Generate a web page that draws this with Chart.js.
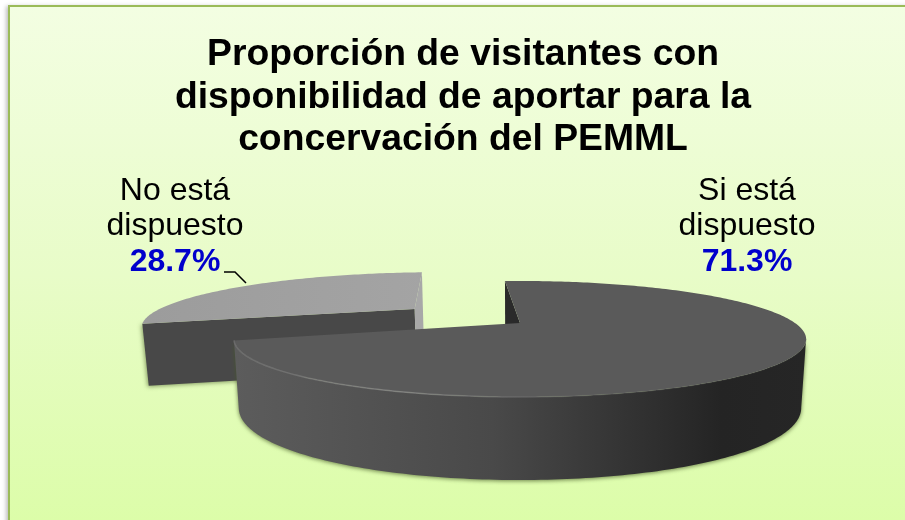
<!DOCTYPE html>
<html>
<head>
<meta charset="utf-8">
<style>
html, body { margin: 0; padding: 0; background: #fff; overflow: hidden; }
#panel {
    position: absolute; left: 8px; top: 5px; width: 920px; height: 540px;
    border: 2px solid #9bbb59; box-sizing: border-box;
    background: linear-gradient(to bottom, #f3fee2 0%, #e8fcc8 50%, #dbfda6 100%);
    box-shadow: -2px 1px 4px rgba(0, 0, 0, 0.25);
}
#pie { position: absolute; left: 0; top: 0; }
</style>
<script src="https://cdn.jsdelivr.net/npm/chart.js@4"></script>
</head>
<body>
<div id="panel"></div>
<canvas id="pie" width="905" height="520"></canvas>
<script>
const titleLines = [
    'Proporción de visitantes con',
    'disponibilidad de aportar para la',
    'concervación del PEMML'
];
const categories = [['Si está', 'dispuesto'], ['No está', 'dispuesto']];
const values = [71.3, 28.7];

// perspective of the pie plane
const view = { cx: 520, cy: 323, rx: 275, ry: 53.6, persp: 0.276, depth: 61 };

function project(u, v) {
    const s = 1 / (1 - view.persp * v);
    return { x: view.cx + view.rx * u * s, y: view.cy + view.ry * v * s, s: s, v: v };
}

function lower(p) {
    // wall gets taller towards the viewer
    const extra = p.s > 1 ? 22 * Math.pow((p.s - 1) / 0.381, 0.69) : 0;
    return {
        x: view.cx + (p.x - view.cx) * 0.983,
        y: p.y + view.depth + extra
    };
}

function tracePoly(ctx, pts) {
    ctx.beginPath();
    pts.forEach((p, i) => i ? ctx.lineTo(p.x, p.y) : ctx.moveTo(p.x, p.y));
    ctx.closePath();
}

function arcGeometry(arc) {
    const start = arc.startAngle, end = arc.endAngle;
    const mid = (start + end) / 2;
    const d = arc.options.offset / arc.outerRadius;
    const ou = Math.cos(mid) * d, ov = Math.sin(mid) * d;
    const rim = [];
    const steps = Math.ceil((end - start) / (Math.PI / 180));
    for (let i = 0; i <= steps; i++) {
        const a = start + (end - start) * i / steps;
        rim.push(project(ou + Math.cos(a), ov + Math.sin(a)));
    }
    return { apex: project(ou, ov), rim: rim };
}

function drawWall(ctx, a, b, fill) {
    tracePoly(ctx, [a, b, lower(b), lower(a)]);
    ctx.fillStyle = fill;
    ctx.fill();
}

const pie3d = {
    id: 'pie3d',
    beforeDatasetDraw(chart) {
        const ctx = chart.ctx;
        const arcs = chart.getDatasetMeta(0).data;
        const big = arcGeometry(arcs[0]);
        const small = arcGeometry(arcs[1]);
        ctx.save();

        // small slice first, the big one overlaps it
        const sr = small.rim;
        ctx.save();
        ctx.shadowColor = 'rgba(70, 90, 40, 0.6)';
        ctx.shadowBlur = 4;
        ctx.shadowOffsetX = -1;
        ctx.shadowOffsetY = 1;
        drawWall(ctx, small.apex, sr[0], '#484848');
        ctx.restore();
        drawWall(ctx, small.apex, sr[sr.length - 1], '#a8a8a8');
        tracePoly(ctx, [small.apex].concat(sr));
        const smallTop = ctx.createLinearGradient(150, 0, 430, 0);
        smallTop.addColorStop(0, '#9c9c9c');
        smallTop.addColorStop(1, arcs[1].options.backgroundColor);
        ctx.fillStyle = smallTop;
        ctx.fill();

        // big slice
        const br = big.rim;
        drawWall(ctx, big.apex, br[0], '#2a2a2a');
        // outer wall: only the part facing us, from the rightmost rim point on
        let right = 0;
        br.forEach((p, i) => { if (p.x > br[right].x) right = i; });
        const front = br.slice(right);
        const grad = ctx.createLinearGradient(235, 0, 808, 0);
        grad.addColorStop(0, '#5c5c5c');
        grad.addColorStop(0.45, '#494949');
        grad.addColorStop(0.85, '#242424');
        grad.addColorStop(1, '#262626');
        ctx.save();
        ctx.shadowColor = 'rgba(70, 90, 40, 0.75)';
        ctx.shadowBlur = 4;
        ctx.shadowOffsetY = 1;
        tracePoly(ctx, front.concat(front.map(lower).reverse()));
        ctx.fillStyle = grad;
        ctx.fill();
        ctx.restore();
        tracePoly(ctx, [big.apex].concat(br));
        ctx.fillStyle = arcs[0].options.backgroundColor;
        ctx.fill();

        // soft highlight on the front rim only
        const hl = ctx.createLinearGradient(235, 0, 808, 0);
        hl.addColorStop(0, 'rgba(130,130,130,0.5)');
        hl.addColorStop(0.3, 'rgba(140,140,140,0.7)');
        hl.addColorStop(0.6, 'rgba(110,110,110,0.35)');
        hl.addColorStop(1, 'rgba(90,90,90,0.2)');
        ctx.beginPath();
        front.forEach((p, i) => i ? ctx.lineTo(p.x, p.y) : ctx.moveTo(p.x, p.y));
        ctx.strokeStyle = hl;
        ctx.lineWidth = 1.5;
        ctx.stroke();

        ctx.restore();
        return false;
    },
    afterDraw(chart) {
        const ctx = chart.ctx;
        const spots = [747, 175];
        ctx.save();
        ctx.textAlign = 'center';
        ctx.textBaseline = 'middle';
        categories.forEach((lines, i) => {
            ctx.fillStyle = '#000';
            ctx.font = '32px "Liberation Sans"';
            ctx.fillText(lines[0], spots[i], 191);
            ctx.fillText(lines[1], spots[i], 226);
            ctx.fillStyle = '#0000cc';
            ctx.font = 'bold 32px "Liberation Sans"';
            ctx.fillText(values[i].toFixed(1) + '%', spots[i], 262);
        });
        // leader line of the small slice
        ctx.beginPath();
        ctx.moveTo(224, 272);
        ctx.lineTo(235, 272);
        ctx.lineTo(246, 283);
        ctx.strokeStyle = '#000';
        ctx.lineWidth = 1.5;
        ctx.stroke();
        ctx.restore();
    }
};

new Chart(document.getElementById('pie'), {
    type: 'pie',
    data: {
        labels: categories.map(c => c.join(' ')),
        datasets: [{
            data: values,
            backgroundColor: ['#5a5a5a', '#a4a4a4'],
            borderWidth: 0,
            offset: [0, 50],
            radius: 100
        }]
    },
    options: {
        responsive: false,
        animation: false,
        devicePixelRatio: 1,
        rotation: -4,
        layout: { padding: { left: 21, top: 34 } },
        plugins: {
            legend: { display: false },
            tooltip: { enabled: false },
            title: {
                display: true,
                text: titleLines,
                color: '#000',
                font: { family: '"Liberation Sans"', size: 37.3, weight: 'bold', lineHeight: 1.135 },
                padding: 0
            }
        }
    },
    plugins: [pie3d]
});
</script>
</body>
</html>
